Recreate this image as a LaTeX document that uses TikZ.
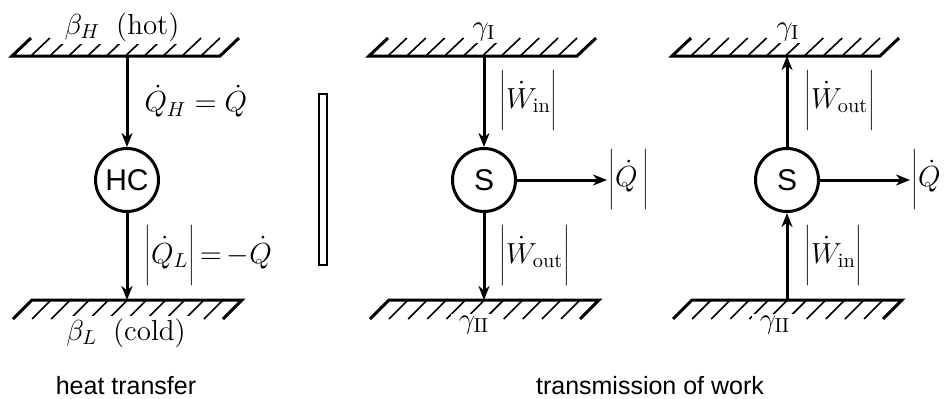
\RequirePackage{fix-cm}
\documentclass[tikz,border=0pt]{standalone}
\usepackage{fontspec}
\usepackage{tikz}
\usetikzlibrary{arrows.meta, positioning}
\newfontfamily\sflabel{Liberation Sans}
\newcommand{\absv}[1]{\left|\vrule height 18pt depth 12pt width 0pt #1\right|}

\begin{document}
\begin{tikzpicture}[
  x=0.5pt,y=0.5pt,
  circ/.style={circle,draw,line width=1.5pt,minimum size=31.5pt,inner sep=0pt,
               font=\sflabel\fontsize{15}{18}\selectfont},
  arr/.style={-{Stealth[length=7pt,width=5.5pt,inset=2.2pt]},line width=1.5pt},
  wallline/.style={line width=1.5pt},
  hatch/.style={line width=0.8pt},
  lbl/.style={font=\fontsize{14.5}{17}\selectfont,inner sep=1pt},
  res/.style={lbl,fill=white,inner xsep=4pt},
  caption/.style={font=\sflabel\fontsize{12.5}{15}\selectfont}
]
  \useasboundingbox (0,0) rectangle (945,398);

  % walls
  \foreach \cx in {127,484,787}{
    \draw[wallline] (\cx-96,360) -- (\cx-115,342) -- (\cx+93,342) -- (\cx+112,360);
    \foreach \k in {1,...,10}
      \draw[hatch] (\cx-115+\k*18.9,342) -- ++(19,18);
    \draw[wallline] (\cx-114,79) -- (\cx-95,98) -- (\cx+115,98) -- (\cx+96,79);
    \foreach \k in {1,...,10}
      \draw[hatch] (\cx-95+\k*19.1,98) -- ++(-19,-19);
  }

  \coordinate (topH) at (127,342);
  \coordinate (botH) at (127,98);
  \coordinate (topA) at (484,342);
  \coordinate (botA) at (484,98);
  \coordinate (topB) at (787,342);
  \coordinate (botB) at (787,98);
  \coordinate (qA) at (607,218);
  \coordinate (qB) at (910,218);

  \node[circ] (hc) at (127,218) {HC};
  \node[circ] (sA) at (484,218) {S};
  \node[circ] (sB) at (787,218) {S};

  \draw[arr] (topH) -- node[lbl,right=7pt] {$\dot{Q}_H = \dot{Q}$} (hc);
  \draw[arr] (hc) -- node[lbl,right=7pt] {$\absv{\dot{Q}_L}{=}\,{-}\dot{Q}$} (botH);

  \draw[arr] (topA) -- node[lbl,right=6pt] {$\absv{\dot{W}_{\mathrm{in}}}$} (sA);
  \draw[arr] (sA) -- node[lbl,right=6pt] {$\absv{\dot{W}_{\mathrm{out}}}$} (botA);
  \draw[arr] (sA) -- (qA) node[lbl,right,inner sep=0pt] {$\absv{\dot{Q}\,}$};

  \draw[arr] (sB) -- node[lbl,right=7pt] {$\absv{\dot{W}_{\mathrm{out}}}$} (topB);
  \draw[arr] (botB) -- node[lbl,right=7pt] {$\absv{\dot{W}_{\mathrm{in}}}$} (sB);
  \draw[arr] (sB) -- (qB) node[lbl,right,inner sep=0pt] {$\absv{\dot{Q}\,}$};

  % reservoir labels
  \node[res] (hot) at (122,371) {$\beta_H$\hspace{8pt}(hot)};
  \node[res] (cold) at (126,65) {$\beta_L$\hspace{8pt}(cold)};
  \node[res] (gIA) at (484,366) {$\gamma_{\mathrm{I}}$};
  \node[res] (gIIA) at (474,73) {$\gamma_{\mathrm{II}}$};
  \node[res] (gIB) at (788,366) {$\gamma_{\mathrm{I}}$};
  \node[res] (gIIB) at (775,73) {$\gamma_{\mathrm{II}}$};

  \node[draw,line width=0.6pt,minimum width=4pt,minimum height=85.5pt,inner sep=0pt] (sep) at (323,218.5) {};

  \node[caption] (capH) at (126,12) {heat transfer};
  \node[caption] (capW) at (650,12) {transmission of work};
\end{tikzpicture}
\end{document}
